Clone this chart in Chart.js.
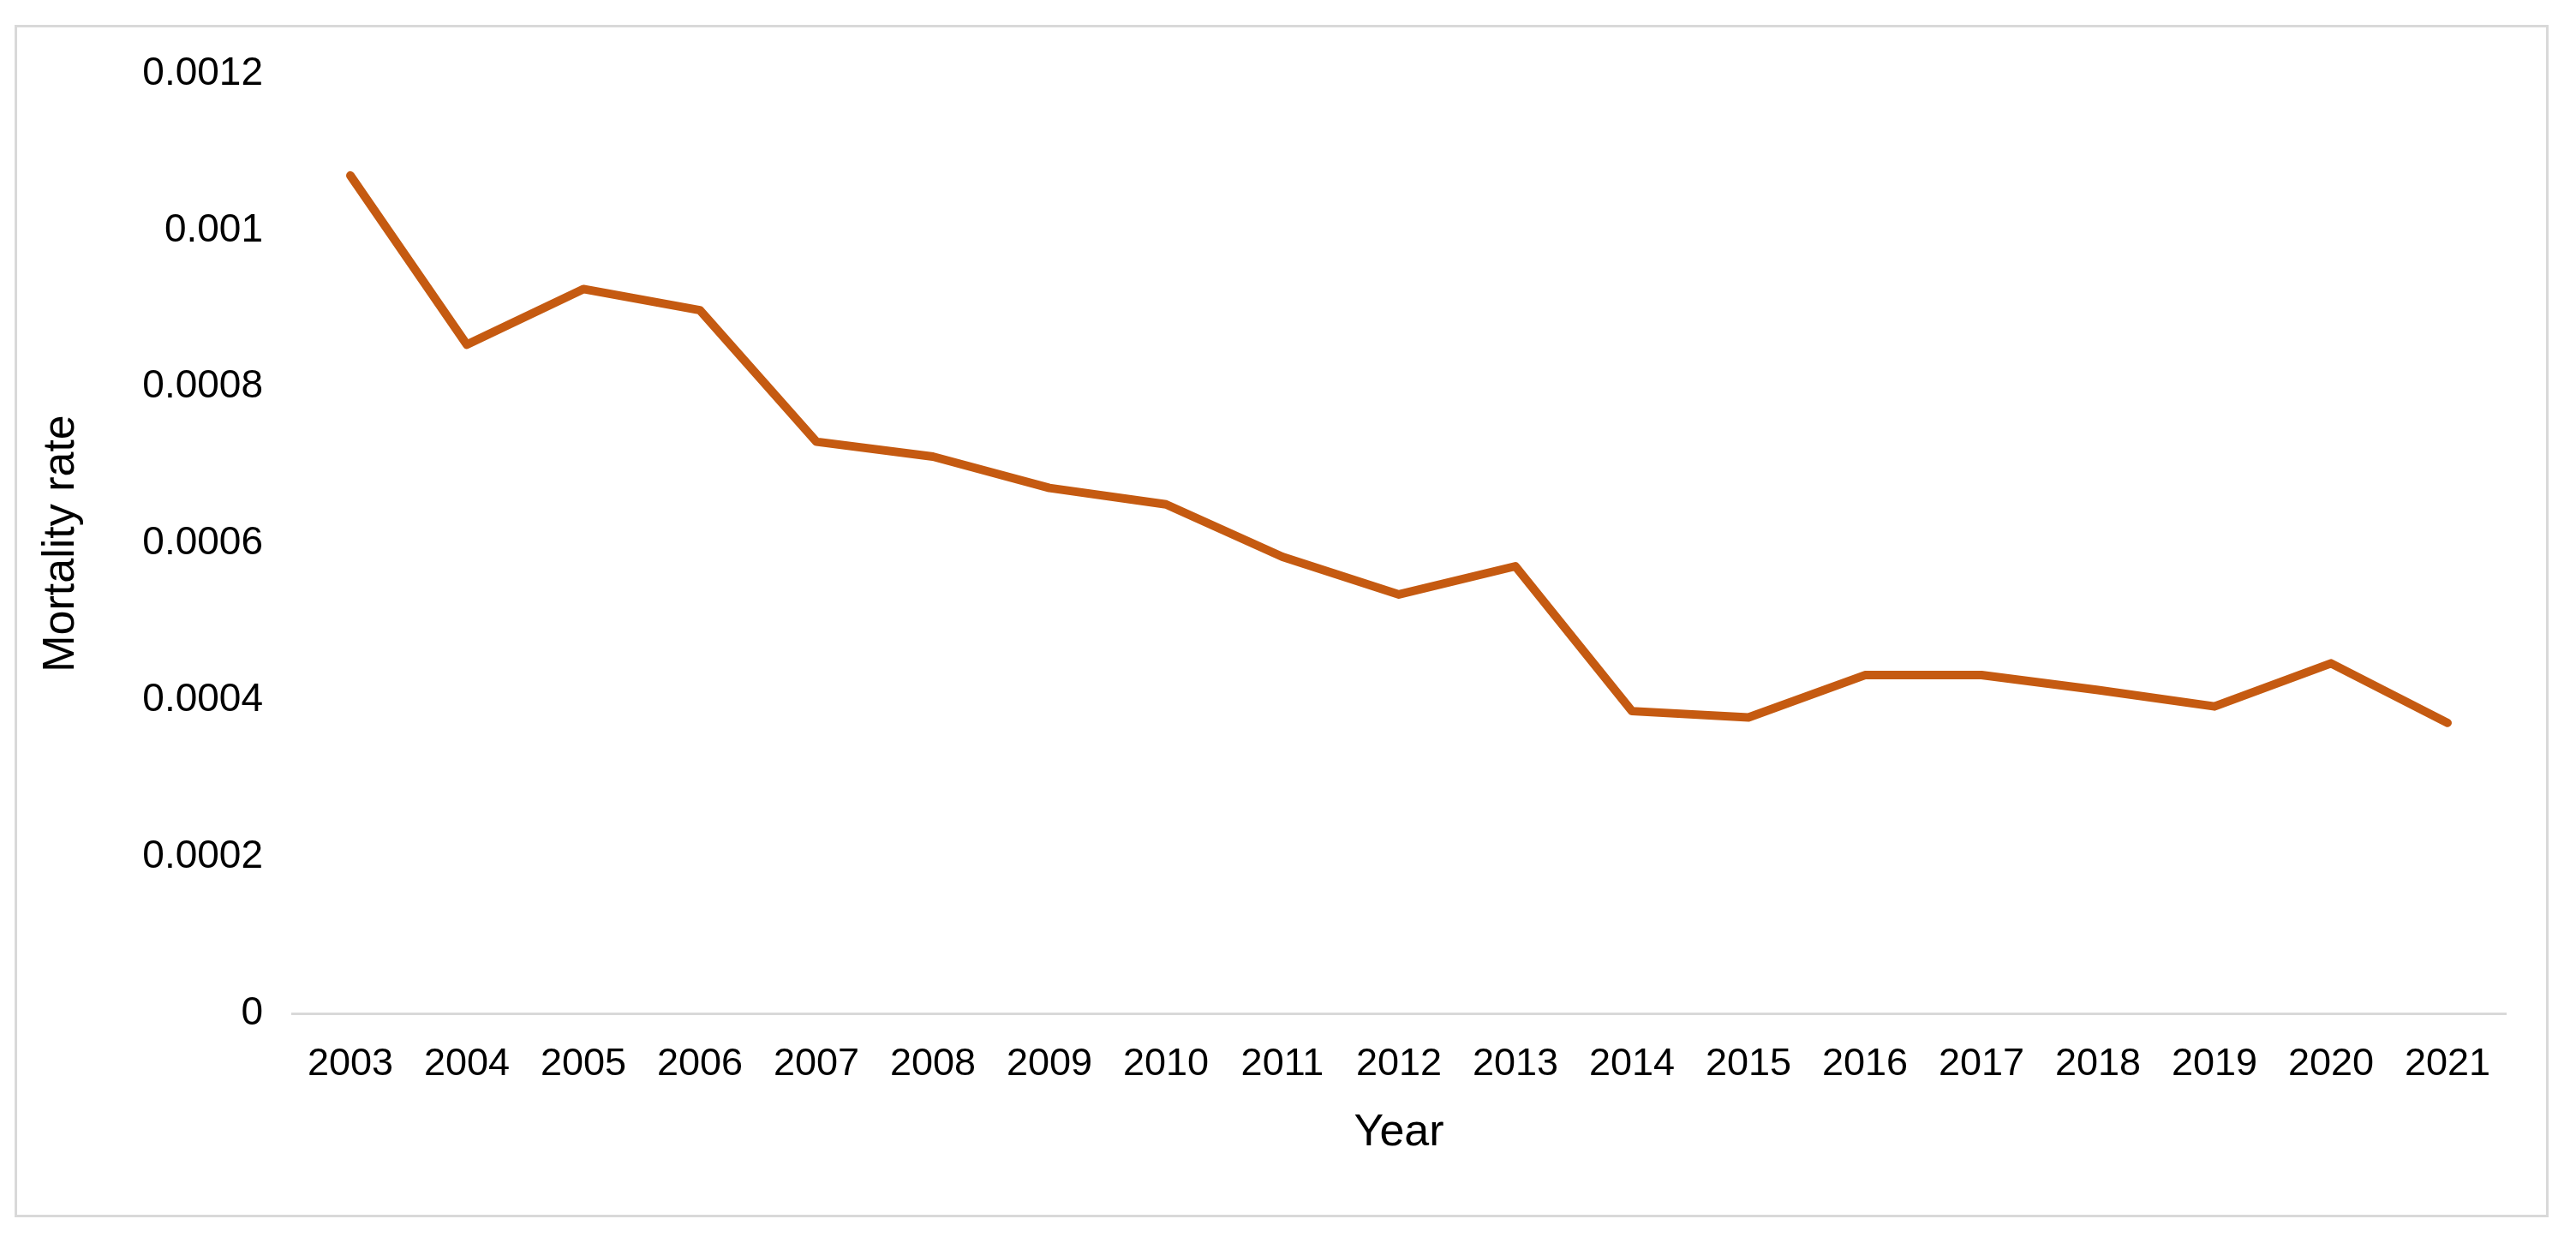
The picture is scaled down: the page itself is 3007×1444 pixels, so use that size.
<!DOCTYPE html>
<html>
<head>
<meta charset="utf-8">
<script src="https://cdn.jsdelivr.net/npm/chart.js@4.4.1/dist/chart.umd.min.js"></script>
<style>
  html, body { margin: 0; padding: 0; background: #fff; }
  #wrap { position: absolute; left: 0; top: 0; width: 3007px; height: 1444px; }
  #frame {
    position: absolute; left: 17px; top: 29px; width: 2952px; height: 1386px;
    border: 3px solid #d9d9d9; box-sizing: content-box;
  }
  canvas { position: absolute; left: 0; top: 0; }
</style>
</head>
<body>
<div id="wrap">
  <div id="frame"></div>
  <canvas id="mortChart" width="3007" height="1444"></canvas>
</div>
<script>
// datos
const years = ['2003', '2004', '2005', '2006', '2007', '2008', '2009', '2010', '2011', '2012',
               '2013', '2014', '2015', '2016', '2017', '2018', '2019', '2020', '2021'];
const mortality = [0.00107, 0.000854, 0.000925, 0.000898, 0.00073, 0.000711, 0.000671, 0.00065,
                   0.000583, 0.000535, 0.000571, 0.000386, 0.000378, 0.000432, 0.000432,
                   0.000413, 0.000392, 0.000447, 0.000371];
const yTicks      = [0, 0.0002, 0.0004, 0.0006, 0.0008, 0.001, 0.0012];
const yTickLabels = ['0', '0.0002', '0.0004', '0.0006', '0.0008', '0.001', '0.0012'];

const font  = 'Liberation Sans';
const txt   = '#000000';
const axisC = '#d9d9d9';

const ctx = document.getElementById('mortChart').getContext('2d');

new Chart(ctx, {
  type: 'line',
  data: {
    labels: years,
    datasets: [{
      data:            mortality,
      borderColor:     '#C55A11',
      borderWidth:     10,
      borderCapStyle:  'round',
      borderJoinStyle: 'round',
      pointRadius:     0,
      tension:         0,
      fill:            false
    }]
  },
  options: {
    responsive: false,
    animation: false,
    devicePixelRatio: 1,
    layout: { padding: { left: 20, top: 86, right: 82, bottom: 20 } },
    plugins: {
      legend:  { display: false },
      tooltip: { enabled: false }
    },
    scales: {
      x: {
        offset: true,
        grid:   { display: false, drawTicks: false },
        border: { display: true, color: axisC, width: 3 },
        ticks:  { color: txt, padding: 33, maxRotation: 0, font: { size: 45, family: font } },
        title:  { display: true, text: 'Year', color: txt, padding: { top: 0, bottom: 70 },
                  font: { size: 52, family: font } },
        afterFit: s => { s.height = 1444 - 20 - 1183; }
      },
      y: {
        min: 0,
        max: 0.0012,
        afterBuildTicks: s => { s.ticks = yTicks.map(v => ({ value: v })); },
        grid:   { display: false, drawTicks: false },
        border: { display: false },
        ticks:  {
          color: txt, padding: 34, font: { size: 46, family: font },
          callback: (v, i) => yTickLabels[i]
        },
        title:  { display: true, text: 'Mortality rate', color: txt, padding: { top: 20, bottom: 0 },
                  font: { size: 52, family: font } },
        afterFit: s => { s.width = 341 - 20; }
      }
    }
  }
});
</script>
</body>
</html>
